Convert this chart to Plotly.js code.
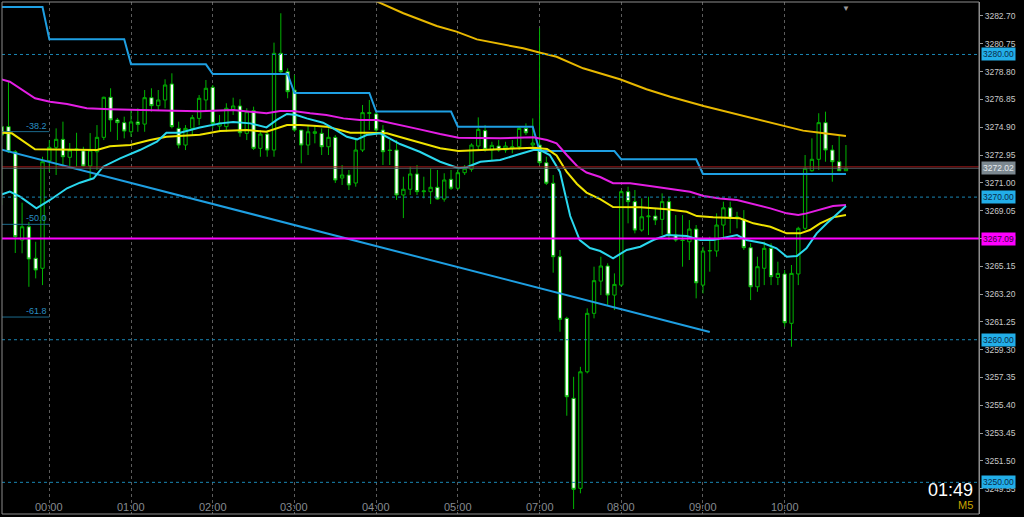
<!DOCTYPE html>
<html><head><meta charset="utf-8">
<script src="https://cdn.plot.ly/plotly-3.0.1.min.js"></script>
<style>html,body{margin:0;padding:0;background:#000;}#chart{width:1024px;height:517px;}</style>
</head><body><div id="chart"></div>
<script>
// ---- candles (M5 bars, first bar 23:25, gap for 06:00 hour) ----
const openP = [3274.94,3274.94,3273.18,3266.99,3267.92,3265.71,3265.01,
3272.55,3273.49,3274.05,3272.79,3273.30,3273.25,3272.18,3273.18,3274.19,3277.00,3275.41,3275.22,
3274.58,3275.27,3275.12,3276.97,3276.41,3276.81,3277.93,3274.82,3273.65,3274.82,3275.52,3276.81,
3277.70,3274.98,3274.94,3276.16,3276.39,3274.47,3276.06,3273.42,3274.42,3273.30,3280.08,3278.79,
3277.51,3274.70,3273.65,3274.47,3274.47,3273.53,3274.19,3271.34,3271.55,3270.99,3273.30,3275.86,
3275.83,3274.70,3273.30,3273.30,3270.15,3270.55,3271.62,3270.38,3270.38,3270.69,3269.86,3271.25,
3270.62,3271.71,3271.95,3273.58,3274.66,3273.30,3273.58,3273.30,3273.44,3273.53,3274.82,3273.65,
3273.65,3272.41,3270.97,3265.82,3261.50,3255.89,3249.58,3257.75,3261.85,3264.11,3265.17,3263.13,
3263.83,3270.38,3269.68,3267.69,3268.62,3268.67,3268.44,3269.68,3267.34,3266.99,3266.87,3267.76,
3263.83,3266.22,3266.22,3268.04,3269.25,3268.53,3268.44,3266.45,3263.71,3265.01,3266.41,3264.37,
3264.61,3261.15,3264.61,3267.81,3271.85,3272.65,3275.22,3273.30,3272.48,3271.85];
const highP = [3274.94,3278.09,3273.30,3269.61,3268.25,3266.87,3272.83,
3274.00,3274.82,3275.29,3273.79,3274.51,3273.53,3274.49,3275.05,3277.04,3277.63,3275.55,3275.64,
3276.11,3276.23,3277.51,3277.63,3277.51,3278.26,3278.68,3275.29,3275.05,3275.76,3277.16,3278.21,
3277.86,3275.76,3276.58,3276.97,3276.86,3276.23,3276.34,3274.70,3274.70,3280.83,3282.89,3279.03,
3278.56,3274.70,3275.05,3275.05,3274.82,3274.82,3274.35,3272.25,3271.90,3274.00,3276.46,3276.81,
3275.97,3275.05,3274.00,3274.00,3271.43,3272.13,3272.25,3271.43,3272.02,3271.90,3271.67,3271.90,
3271.95,3272.25,3273.77,3275.59,3275.05,3273.88,3274.00,3273.88,3274.00,3274.94,3275.17,3275.52,
3281.84,3272.83,3271.55,3266.29,3261.61,3257.40,3258.10,3262.20,3265.12,3265.82,3265.36,3264.65,
3270.50,3270.73,3270.50,3269.91,3270.03,3269.21,3270.26,3270.03,3268.74,3268.74,3268.39,3268.04,
3266.52,3267.22,3268.86,3269.68,3269.68,3268.97,3269.09,3266.76,3265.82,3266.87,3266.76,3265.47,
3264.89,3265.24,3267.92,3272.95,3274.12,3275.88,3275.99,3273.65,3274.35,3273.65];
const lowP = [3269.44,3273.09,3266.08,3266.06,3263.71,3264.30,3263.83,
3271.78,3271.55,3272.13,3272.13,3272.13,3272.13,3271.20,3271.90,3274.00,3274.58,3274.00,3274.12,
3274.23,3274.58,3274.58,3275.99,3276.11,3276.23,3274.82,3273.42,3273.30,3274.35,3275.05,3276.11,
3274.82,3274.58,3274.58,3275.76,3274.23,3274.00,3273.30,3272.83,3272.83,3272.83,3278.68,3276.93,
3274.58,3272.37,3272.95,3273.77,3272.95,3272.95,3270.99,3270.85,3270.50,3270.73,3273.16,3274.70,
3274.35,3272.25,3272.25,3269.80,3268.53,3270.15,3270.15,3269.91,3269.51,3269.80,3269.68,3270.50,
3270.50,3271.55,3271.78,3273.30,3273.18,3272.60,3273.18,3273.11,3273.07,3273.30,3274.35,3273.51,
3272.25,3270.85,3264.70,3260.56,3254.67,3248.13,3249.23,3257.64,3261.50,3263.13,3262.43,3262.08,
3263.71,3268.16,3267.46,3267.57,3267.34,3268.04,3267.34,3266.99,3266.87,3265.12,3265.59,3262.90,
3263.25,3264.77,3265.82,3266.99,3267.46,3267.81,3266.29,3262.78,3263.36,3263.83,3263.83,3263.83,
3260.91,3259.51,3263.83,3267.69,3271.78,3271.90,3272.48,3271.08,3271.85,3271.85];
const closeP = [3274.35,3273.18,3267.22,3267.92,3265.66,3264.89,3272.48,
3273.49,3274.05,3272.83,3273.30,3273.37,3272.18,3273.30,3274.19,3277.00,3275.41,3275.22,3274.63,
3275.27,3275.10,3276.97,3276.41,3276.81,3277.86,3274.94,3273.65,3274.82,3275.57,3276.93,3277.63,
3275.17,3275.20,3276.23,3276.39,3274.51,3275.99,3273.42,3274.42,3273.30,3280.08,3278.79,3277.39,
3274.70,3273.65,3274.58,3274.58,3273.53,3274.19,3271.20,3271.55,3270.85,3273.30,3275.92,3275.92,
3274.70,3273.18,3273.27,3270.15,3270.55,3271.62,3270.38,3270.43,3270.69,3269.86,3271.20,3270.62,
3271.71,3272.02,3273.65,3274.75,3273.35,3273.63,3273.30,3273.58,3273.53,3274.82,3274.51,3273.79,
3272.41,3270.97,3265.82,3261.43,3256.00,3249.51,3257.75,3261.85,3264.14,3265.17,3263.13,3263.88,
3270.38,3269.68,3267.69,3268.62,3268.67,3268.39,3269.68,3267.34,3266.99,3266.96,3267.76,3263.99,
3266.22,3266.25,3268.04,3269.25,3268.51,3268.60,3266.45,3263.71,3265.12,3266.41,3264.42,3264.65,
3261.19,3264.65,3267.81,3272.02,3272.65,3275.22,3273.30,3272.48,3271.85,3272.02];
const firstBar = -7; // bar offset of first candle relative to the 00:00 bar

// ---- hour ticks ----
const hourIdx  = [0,12,24,36,48,60,72,84,96,108];
const hourText = ['00:00','01:00','02:00','03:00','04:00','05:00','07:00','08:00','09:00','10:00'];

// ---- price axis ticks ----
const yTicks = [3282.70,3280.75,3278.80,3276.85,3274.90,3272.95,3271.00,3269.05,3267.10,
                3265.15,3263.20,3261.25,3259.30,3257.35,3255.40,3253.45,3251.50,3249.55];

// ---- moving averages (sampled, bar index / price) ----
const magentaIdx = [-7,-5.8,-2.1,0.1,2.6,5.5,8.9,12.3,15.8,18.2,22.1,27.0,29.5,31.9,33.9,35.8,38.3,40.7,43.2,45.6,
48.1,50.0,51.5,54.4,57.4,60.1,66.2,71.1,73.1,74.5,76.0,77.5,78.9,80.9,82.8,85.3,88.2,91.6,94.1,96.1,
98.5,101.0,103.4,105.9,108.3,110.0,111.2,113.2,115.1,117.0];
const magentaVal = [3278.25,3278.09,3276.93,3276.69,3276.53,3276.23,3276.16,3276.11,3276.11,3276.06,
3276.02,3276.11,3275.99,3275.88,3276.04,3276.04,3275.88,3275.76,3275.52,3275.41,
3275.41,3275.22,3275.05,3274.75,3274.42,3274.16,3274.12,3274.19,3274.00,3273.77,
3272.95,3272.18,3271.72,3271.41,3270.97,3270.97,3270.78,3270.55,3270.38,3270.08,
3269.91,3269.80,3269.51,3269.21,3268.86,3268.74,3268.86,3269.14,3269.37,3269.44];

const cyanIdx = [-7,-5.8,-4.3,-1.9,0.1,2.6,4.5,6.5,7.9,10.4,13.3,15.8,17.2,19.2,22.1,25.1,27.0,29.5,31.9,33.4,
34.9,36.3,37.8,40.2,41.7,43.7,45.2,46.6,48.6,51.5,54.4,57.4,60.1,61.3,63.3,66.2,68.6,71.1,72.1,73.5,
75.0,76.5,77.9,79.4,80.9,82.8,84.8,86.8,88.7,90.7,93.6,95.6,97.5,99.5,101.0,102.4,104.9,106.8,108.3,109.8,
111.2,112.7,114.2,117.0];
const cyanVal = [3270.18,3270.38,3270.03,3269.21,3269.80,3270.62,3271.01,3271.32,3272.13,3272.72,
3273.30,3273.88,3274.51,3274.51,3274.88,3275.17,3275.27,3275.17,3274.89,3275.41,
3275.83,3275.76,3275.52,3275.22,3274.82,3274.23,3274.05,3274.35,3274.47,3273.72,
3273.18,3272.48,3272.02,3272.09,3272.48,3272.60,3272.95,3273.30,3273.30,3272.95,
3271.76,3268.67,3266.99,3266.43,3266.22,3265.71,3266.29,3266.52,3266.99,3267.34,
3267.27,3266.99,3266.99,3267.22,3267.34,3266.99,3266.76,3266.41,3265.82,3265.87,
3266.41,3267.46,3268.16,3269.37];

const yellowIdx = [-7,-5.5,-2.1,0.1,5.5,7.0,8.9,11.9,14.8,17.2,22.1,25.1,29.0,31.9,34.9,36.8,39.3,40.7,42.7,44.2,
46.6,49.6,51.5,54.4,57.4,60.1,63.7,67.7,71.1,73.1,74.5,76.0,77.5,78.9,80.9,82.8,86.8,90.7,93.6,95.1,
97.5,101.4,103.4,105.9,108.3,110.3,111.7,113.2,115.1,117.0];
const yellowVal = [3274.51,3274.47,3273.35,3273.35,3273.30,3273.30,3273.56,3273.65,3274.00,3274.23,
3274.37,3274.63,3274.70,3274.58,3275.05,3275.05,3274.98,3274.94,3274.70,3274.51,
3274.51,3274.47,3274.21,3273.81,3273.42,3273.23,3273.30,3273.37,3273.46,3273.37,
3272.92,3271.76,3270.92,3270.32,3269.86,3269.30,3269.28,3269.14,3268.97,3268.67,
3268.58,3268.51,3268.16,3267.92,3267.46,3267.46,3267.69,3268.16,3268.58,3268.74];

const goldIdx = [45.0,48.3,52.0,56.9,59.8,62.8,66.7,69.6,72.1,74.5,78.4,81.4,83.8,87.7,91.2,96.1,100.0,103.4,105.9,108.3,110.7,113.2,115.1,117.0];
const goldVal = [3284.38,3283.70,3282.89,3282.00,3281.60,3281.06,3280.71,3280.43,3280.12,3279.84,3279.03,3278.63,
3278.26,3277.56,3277.04,3276.39,3275.92,3275.52,3275.22,3274.94,3274.66,3274.51,3274.42,3274.28];

// ---- hourly step channel ----
const stepStartIdx = [-7,0,12,24,36,48,60,72,84,96];
const stepLevel    = [3283.33,3281.07,3279.31,3278.63,3277.30,3276.00,3274.94,3273.23,3272.65,3271.62];

// ---- trend line & fibonacci ----
const trendIdx = [-7,97];
const trendVal = [3273.33,3260.54];
const fibLevels = [3274.59,3268.09,3261.59];
const fibLabels = ['-38.2','-50.0','-61.8'];
const fibSpan = [-7,0];

// ---- horizontal levels ----
const roundLevels = [3280.00,3270.00,3260.00,3250.00];
const bidPrice = 3272.02;
const askPrice = 3272.12;
const supportLevel = 3267.09;
const timerText = '01:49';
const periodText = 'M5';

// ===== build =====
const barIdx = openP.map((_, i) => i + firstBar);
const stepVals = barIdx.map(b => {
  let lv = stepLevel[0];
  for (let k = 0; k < stepStartIdx.length; k++) if (b >= stepStartIdx[k]) lv = stepLevel[k];
  return lv;
});
const lastBar = barIdx[barIdx.length - 1];

const FONT = 'Liberation Sans, Arial, sans-serif';
const traces = [];
traces.push({type:'candlestick', x: barIdx, open: openP, high: highP, low: lowP, close: closeP,
  increasing:{line:{color:'#00b400', width:1}, fillcolor:'#000000'},
  decreasing:{line:{color:'#00b400', width:1}, fillcolor:'#ffffff'},
  whiskerwidth:0, hoverinfo:'skip', showlegend:false});
fibLevels.forEach(l => traces.push({type:'scatter', mode:'lines', x: fibSpan, y:[l,l],
  line:{color:'#1b6a8c', width:1}, hoverinfo:'skip', showlegend:false}));
traces.push({type:'scatter', mode:'lines', x: trendIdx, y: trendVal,
  line:{color:'#1e9fe2', width:2}, hoverinfo:'skip', showlegend:false});
traces.push({type:'scatter', mode:'lines', x: barIdx, y: stepVals,
  line:{color:'#1e9fe2', width:2}, hoverinfo:'skip', showlegend:false});
traces.push({type:'scatter', mode:'lines', x: goldIdx, y: goldVal,
  line:{color:'#e8b800', width:2}, hoverinfo:'skip', showlegend:false});
traces.push({type:'scatter', mode:'lines', x: magentaIdx, y: magentaVal,
  line:{color:'#e41ee4', width:2}, hoverinfo:'skip', showlegend:false});
traces.push({type:'scatter', mode:'lines', x: yellowIdx, y: yellowVal,
  line:{color:'#f0e400', width:2}, hoverinfo:'skip', showlegend:false});
traces.push({type:'scatter', mode:'lines', x: cyanIdx, y: cyanVal,
  line:{color:'#2ad8ee', width:2}, hoverinfo:'skip', showlegend:false});

const shapes = [];
roundLevels.forEach(l => shapes.push({type:'line', xref:'paper', x0:0, x1:1, yref:'y', y0:l, y1:l,
  line:{color:'#1a86b4', width:1, dash:'3px,3px'}, layer:'above'}));
shapes.push({type:'line', xref:'paper', x0:0, x1:1, yref:'y', y0:askPrice, y1:askPrice, line:{color:'#a51818', width:1}});
shapes.push({type:'line', xref:'paper', x0:0, x1:1, yref:'y', y0:bidPrice, y1:bidPrice, line:{color:'#4f5a62', width:1}});
shapes.push({type:'line', xref:'paper', x0:0, x1:1, yref:'y', y0:supportLevel, y1:supportLevel, line:{color:'#ff00ff', width:2}});
shapes.push({type:'rect', xref:'paper', yref:'paper', x0:0, x1:1, y0:0, y1:1, line:{color:'#8c8c8c', width:1}, layer:'above'});

const ann = [];
hourIdx.forEach((h, i) => ann.push({x:h, xref:'x', y:0.014, yref:'paper', text:hourText[i], showarrow:false,
  xanchor:'center', yanchor:'middle', font:{family:FONT, size:11, color:'#868b90'}}));
fibLevels.forEach((l, i) => ann.push({x:fibSpan[1], xref:'x', y:l, yref:'y', text:fibLabels[i], showarrow:false,
  xanchor:'right', yanchor:'bottom', yshift:-1, font:{family:FONT, size:9, color:'#2a8fc2'}}));
function box(v, bg, fg){ ann.push({x:1, xref:'paper', y:v, yref:'y', text:v.toFixed(2), showarrow:false,
  xanchor:'left', yanchor:'middle', xshift:2, bgcolor:bg, borderpad:1,
  font:{family:FONT, size:8.5, color:fg}}); }
roundLevels.forEach(l => box(l, '#22aee8', '#0a2c48'));
box(bidPrice, '#7c8890', '#e6eaee');
box(supportLevel, '#ff00ff', '#3a003a');
ann.push({x:0.996, xref:'paper', y:0.047, yref:'paper', text:timerText, showarrow:false, xanchor:'right', yanchor:'middle',
  font:{family:FONT, size:18, color:'#ffffff'}});
ann.push({x:0.996, xref:'paper', y:0.018, yref:'paper', text:periodText, showarrow:false, xanchor:'right', yanchor:'middle',
  font:{family:FONT, size:11, color:'#c8a400'}});
ann.push({x:lastBar, xref:'x', y:1, yref:'paper', text:'▼', showarrow:false, xanchor:'center', yanchor:'top',
  font:{family:FONT, size:8, color:'#9a9a9a'}});

const layout = {
  width:1024, height:517, paper_bgcolor:'#000', plot_bgcolor:'#000',
  margin:{l:2, r:45, t:2, b:3}, showlegend:false, dragmode:false,
  xaxis:{type:'linear', range:[-6.95, 136.54], tickvals:hourIdx, showticklabels:false, ticks:'',
    showgrid:true, gridcolor:'#5c5c5c', griddash:'3px,3px', gridwidth:1, zeroline:false, showline:false,
    rangeslider:{visible:false}, fixedrange:true},
  yaxis:{side:'right', range:[3247.78, 3283.68], tickvals:yTicks, ticktext:yTicks.map(v => v.toFixed(2)),
    tickfont:{family:FONT, size:8.5, color:'#c8c8c8'}, ticks:'outside', ticklen:3, tickcolor:'#9a9a9a',
    showline:true, linecolor:'#8c8c8c', showgrid:false, zeroline:false, fixedrange:true},
  shapes:shapes, annotations:ann
};
Plotly.newPlot('chart', traces, layout, {staticPlot:true, displayModeBar:false});
</script></body></html>
